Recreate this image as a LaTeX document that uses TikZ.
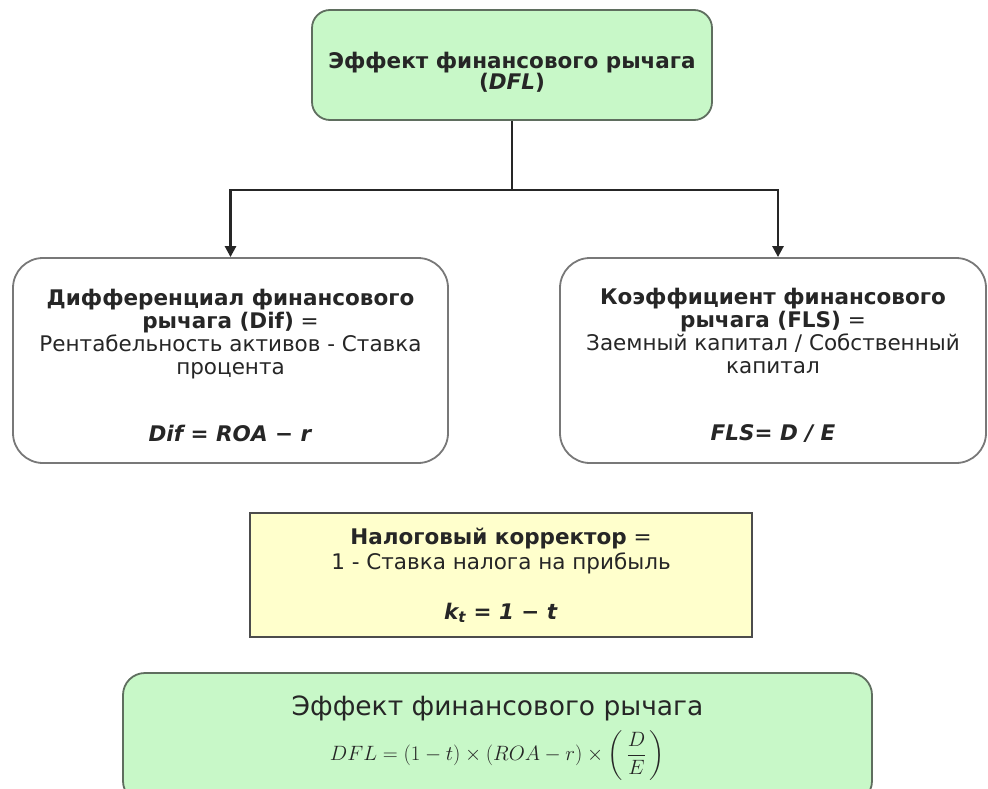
\documentclass[tikz,border=0pt]{standalone}
\usepackage{fontspec}
\setmainfont{DejaVu Sans}
\usepackage{amsmath}
\usetikzlibrary{arrows.meta, positioning}

\definecolor{boxgreen}{RGB}{200,248,200}
\definecolor{boxyellow}{RGB}{255,255,204}
\definecolor{edgegreen}{RGB}{95,110,95}
\definecolor{edgegrey}{RGB}{120,120,120}

\begin{document}
\begin{tikzpicture}[x=1pt, y=-1pt,
    greenbox/.style={rectangle, draw=edgegreen, fill=boxgreen, line width=1.8pt, rounded corners=18pt, align=center, text=black!85, font=\fontsize{21.5}{21}\selectfont},
    whitebox/.style={rectangle, draw=edgegrey, fill=white, line width=1.8pt, rounded corners=30pt, align=center, text=black!85, font=\fontsize{21.5}{23}\selectfont},
    taxbox/.style={rectangle, draw=black!70, fill=boxyellow, line width=1.8pt, align=center, text=black!85, font=\fontsize{21.5}{25}\selectfont},
    line/.style={line width=2.6pt, black!85},
    arrow/.style={line, -{Triangle[length=11pt, width=11pt]}}]
    \useasboundingbox (0,0) rectangle (988,789);
    \node [greenbox, minimum width=400, minimum height=110] (dfl) at (512,65)
        {\rule{0pt}{30pt}\textbf{Эффект финансового рычага}\\\textbf{(\textit{DFL})}};
    \node [whitebox, minimum width=435, minimum height=205] (dif) at (230.5,360.5)
        {\rule{0pt}{26pt}\textbf{Дифференциал финансового}\\\textbf{рычага (Dif)} =\\Рентабельность активов - Ставка\\процента\\[44pt]\textbf{\textit{Dif = ROA − r}}};
    \node [whitebox, minimum width=426, minimum height=205] (fls) at (773,360.5)
        {\rule{0pt}{26pt}\textbf{Коэффициент финансового}\\\textbf{рычага (FLS)} =\\Заемный капитал / Собственный\\капитал\\[44pt]\textbf{\textit{FLS= D / E}}};
    \node [taxbox, minimum width=502, minimum height=124] (tax) at (501,575)
        {\textbf{Налоговый корректор} =\\1 - Ставка налога на прибыль\\[25pt]\textbf{\textit{k\textsubscript{t} = 1 − t}}};
    \node [greenbox, rounded corners=22pt, minimum width=749, minimum height=130] (total) at (497.5,738)
        {{\fontsize{26.5}{30}\selectfont Эффект финансового рычага}\\[8pt]
         {\fontsize{21}{24}\selectfont $DFL = (1-t)\times(ROA-r)\times\left(\,\dfrac{D}{E}\,\right)$}};
    % split of the leverage effect
    \coordinate (fork) at (512,190);
    \draw [line] (dfl) -- (fork);
    \draw [arrow] (fork) -| (dif.north);
    \draw [arrow] (fork) -| ([xshift=5pt]fls.north);
\end{tikzpicture}
\end{document}
